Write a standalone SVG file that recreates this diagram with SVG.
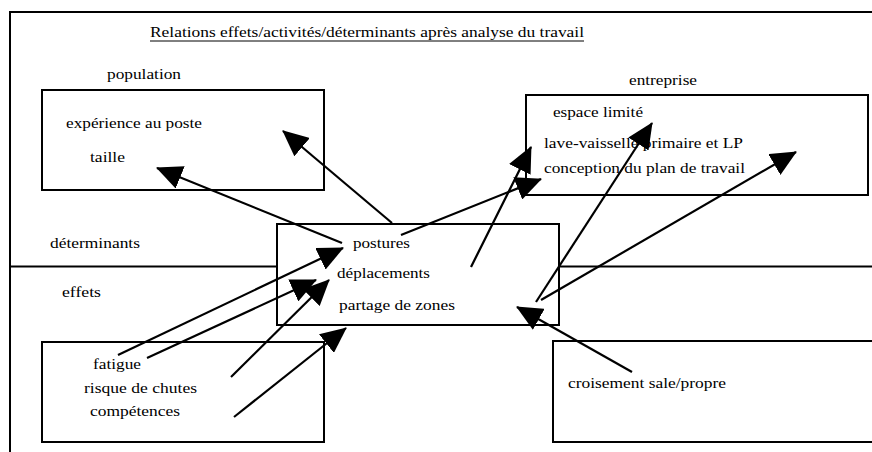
<svg xmlns="http://www.w3.org/2000/svg" width="872" height="452" viewBox="0 0 872 452">
<style>
  .t { font-family: "Liberation Serif", "Times New Roman", serif; font-size: 15px; fill: #000; }
  .box { fill: none; stroke: #000; stroke-width: 2; }
  .frame { fill: none; stroke: #000; stroke-width: 2; }
  .arr { fill: none; stroke: #000; stroke-width: 2.2; marker-end: url(#ah); }
</style>
<defs>
  <marker id="ah" viewBox="0 0 26 24" refX="25" refY="12" markerWidth="26" markerHeight="24" markerUnits="userSpaceOnUse" orient="auto">
    <path d="M0,0 L26,12 L0,24 z" fill="#000"/>
  </marker>
</defs>
<rect width="872" height="452" fill="#fff"/>

<g id="frame">
  <path class="frame" d="M10,452 L10,12 L872,12"/>
  <path class="frame" d="M10,266.5 L277,266.5 M559,266.5 L872,266.5"/>
  <text class="t" x="150" y="37" textLength="434" lengthAdjust="spacingAndGlyphs">Relations effets/activités/déterminants après analyse du travail</text>
  <line x1="150" y1="41" x2="584" y2="41" stroke="#000" stroke-width="1"/>
  <text class="t" x="50" y="248" textLength="90" lengthAdjust="spacingAndGlyphs">déterminants</text>
  <text class="t" x="62" y="297" textLength="39" lengthAdjust="spacingAndGlyphs">effets</text>
</g>

<g id="population">
  <text class="t" x="107" y="79" textLength="74" lengthAdjust="spacingAndGlyphs">population</text>
  <rect class="box" x="42" y="90" width="282" height="100"/>
  <text class="t" x="66" y="128" textLength="136" lengthAdjust="spacingAndGlyphs">expérience au poste</text>
  <text class="t" x="90" y="162" textLength="35" lengthAdjust="spacingAndGlyphs">taille</text>
</g>

<g id="entreprise">
  <text class="t" x="629" y="85" textLength="68" lengthAdjust="spacingAndGlyphs">entreprise</text>
  <rect class="box" x="526" y="95" width="342" height="100"/>
  <text class="t" x="553" y="117" textLength="90" lengthAdjust="spacingAndGlyphs">espace limité</text>
  <text class="t" x="544" y="148" textLength="199" lengthAdjust="spacingAndGlyphs">lave-vaisselle primaire et LP</text>
  <text class="t" x="544" y="173" textLength="201" lengthAdjust="spacingAndGlyphs">conception du plan de travail</text>
</g>

<g id="activites">
  <rect class="box" x="277" y="224" width="282" height="101"/>
  <text class="t" x="353" y="248" textLength="57" lengthAdjust="spacingAndGlyphs">postures</text>
  <text class="t" x="337" y="278" textLength="93" lengthAdjust="spacingAndGlyphs">déplacements</text>
  <text class="t" x="339" y="310" textLength="116" lengthAdjust="spacingAndGlyphs">partage de zones</text>
</g>

<g id="effets-box">
  <rect class="box" x="42" y="342" width="282" height="100"/>
  <text class="t" x="93" y="369" textLength="48" lengthAdjust="spacingAndGlyphs">fatigue</text>
  <text class="t" x="84" y="393" textLength="113" lengthAdjust="spacingAndGlyphs">risque de chutes</text>
  <text class="t" x="90" y="416" textLength="90" lengthAdjust="spacingAndGlyphs">compétences</text>
</g>

<g id="croisement">
  <rect class="box" x="553" y="341" width="330" height="101"/>
  <text class="t" x="568" y="388" textLength="158" lengthAdjust="spacingAndGlyphs">croisement sale/propre</text>
</g>

<g id="connectors">
  <line class="arr" x1="392" y1="223" x2="283" y2="131"/>
  <line class="arr" x1="342" y1="243" x2="157" y2="168"/>
  <line class="arr" x1="401" y1="235" x2="541" y2="179"/>
  <line class="arr" x1="471" y1="267" x2="531" y2="147"/>
  <line class="arr" x1="536" y1="302" x2="652" y2="123"/>
  <line class="arr" x1="541" y1="300" x2="796" y2="152"/>
  <line class="arr" x1="632" y1="372" x2="517" y2="307"/>
  <line class="arr" x1="118" y1="355" x2="343" y2="248"/>
  <line class="arr" x1="147" y1="358" x2="316" y2="280"/>
  <line class="arr" x1="231" y1="377" x2="329" y2="280"/>
  <line class="arr" x1="234" y1="417" x2="346" y2="328"/>
</g>
</svg>
